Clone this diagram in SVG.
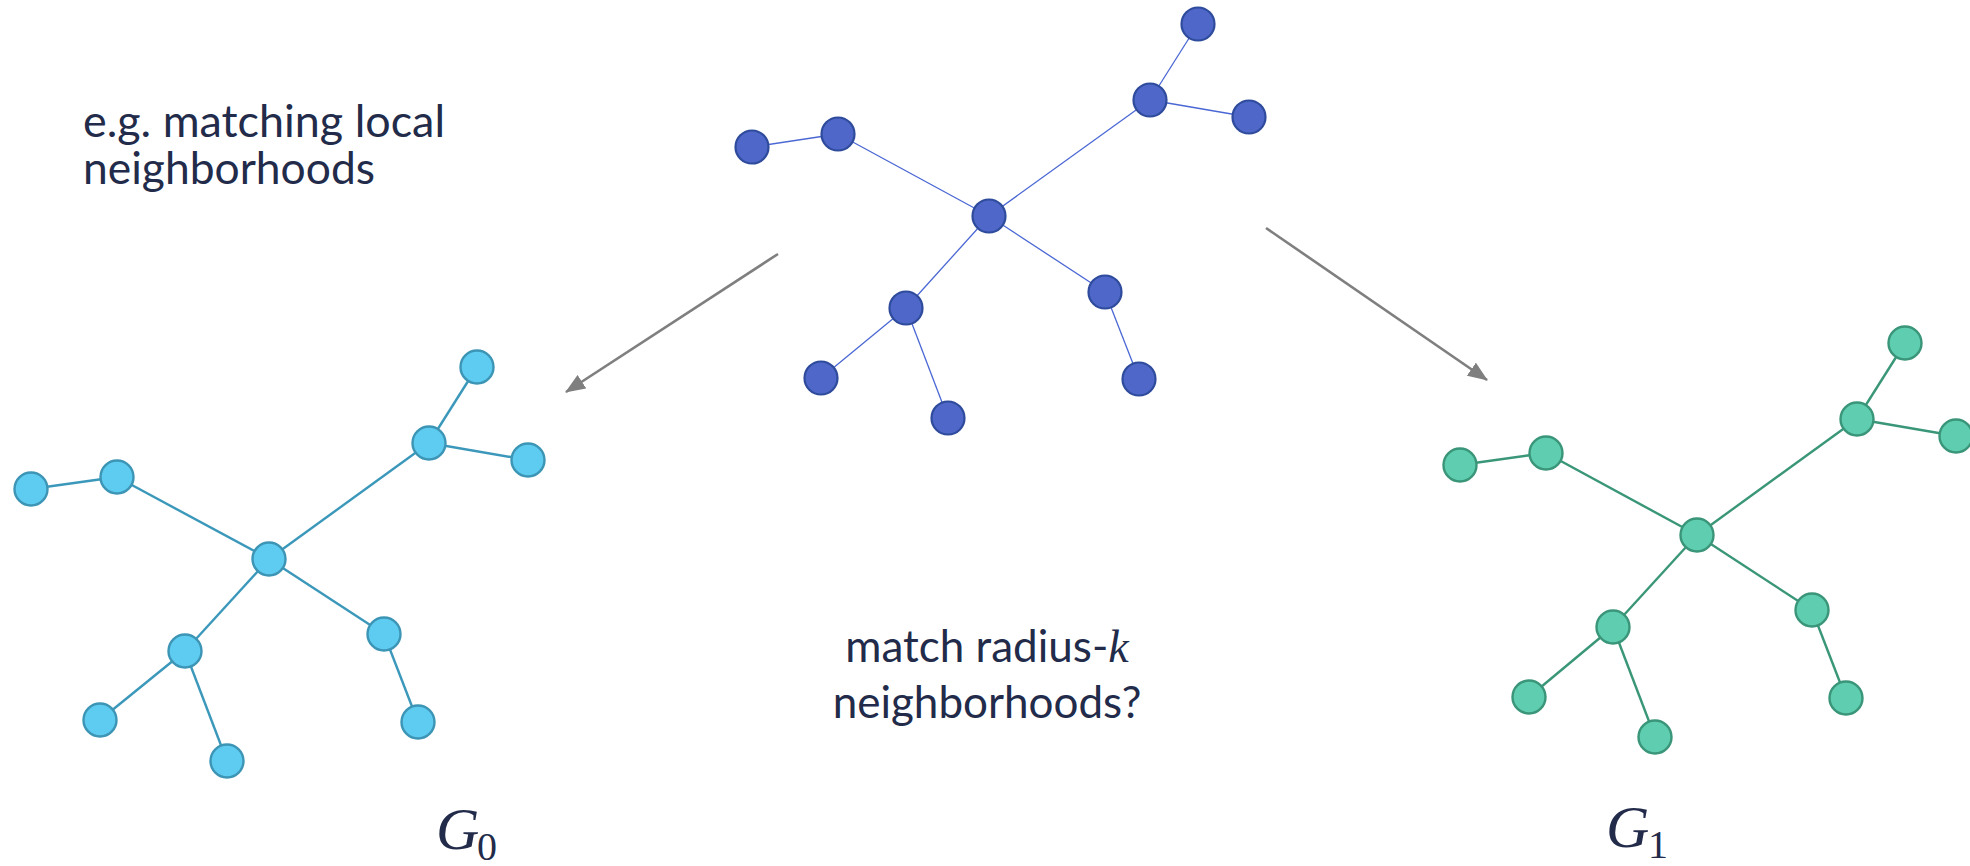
<svg xmlns="http://www.w3.org/2000/svg" width="1970" height="866" viewBox="0 0 1970 866">
<style>
.txt{font-family:Lato,"Open Sans","Liberation Sans",sans-serif;font-size:44px;fill:#222B4A}
.math{font-family:"Liberation Serif","DejaVu Serif",serif;fill:#222B4A}
.e0{stroke:#4A67D4;stroke-width:1.3;fill:none}
.n0{fill:#4E67C8;stroke:#2F4B9C;stroke-width:2.2}
.e1{stroke:#3B98BA;stroke-width:2.4;fill:none}
.n1{fill:#5ECBF0;stroke:#3D95B5;stroke-width:2.4}
.e2{stroke:#3A9678;stroke-width:2.4;fill:none}
.n2{fill:#5ECDB0;stroke:#3A9579;stroke-width:2.4}
.arr{stroke:#7F7F7F;stroke-width:2.6;fill:none}
</style>
<defs>
<marker id="ah" markerUnits="userSpaceOnUse" markerWidth="20" markerHeight="16" viewBox="0 0 20 16" refX="19" refY="8" orient="auto">
<path d="M0,0 L20,8 L0,16 Z" fill="#7F7F7F"/>
</marker>
</defs>
<rect width="1970" height="866" fill="#FFFFFF"/>

<g id="connectors">
<line class="arr" x1="778" y1="254" x2="566" y2="392" marker-end="url(#ah)"/>
<line class="arr" x1="1266" y1="228" x2="1487" y2="380" marker-end="url(#ah)"/>
<!-- top graph edges -->
<line class="e0" x1="752" y1="147" x2="838" y2="134"/>
<line class="e0" x1="838" y1="134" x2="989" y2="216"/>
<line class="e0" x1="989" y1="216" x2="1150" y2="100"/>
<line class="e0" x1="1150" y1="100" x2="1198" y2="24"/>
<line class="e0" x1="1150" y1="100" x2="1249" y2="117"/>
<line class="e0" x1="989" y1="216" x2="906" y2="308"/>
<line class="e0" x1="989" y1="216" x2="1105" y2="292"/>
<line class="e0" x1="906" y1="308" x2="821" y2="378"/>
<line class="e0" x1="906" y1="308" x2="948" y2="418"/>
<line class="e0" x1="1105" y1="292" x2="1139" y2="379"/>
<!-- left graph edges -->
<line class="e1" x1="31" y1="489" x2="117" y2="477"/>
<line class="e1" x1="117" y1="477" x2="269" y2="559"/>
<line class="e1" x1="269" y1="559" x2="429" y2="443"/>
<line class="e1" x1="429" y1="443" x2="477" y2="367"/>
<line class="e1" x1="429" y1="443" x2="528" y2="460"/>
<line class="e1" x1="269" y1="559" x2="185" y2="651"/>
<line class="e1" x1="269" y1="559" x2="384" y2="634"/>
<line class="e1" x1="185" y1="651" x2="100" y2="720"/>
<line class="e1" x1="185" y1="651" x2="227" y2="761"/>
<line class="e1" x1="384" y1="634" x2="418" y2="722"/>
<!-- right graph edges -->
<line class="e2" x1="1460" y1="465" x2="1546" y2="453"/>
<line class="e2" x1="1546" y1="453" x2="1697" y2="535"/>
<line class="e2" x1="1697" y1="535" x2="1857" y2="419"/>
<line class="e2" x1="1857" y1="419" x2="1905" y2="343"/>
<line class="e2" x1="1857" y1="419" x2="1956" y2="436"/>
<line class="e2" x1="1697" y1="535" x2="1613" y2="627"/>
<line class="e2" x1="1697" y1="535" x2="1812" y2="610"/>
<line class="e2" x1="1613" y1="627" x2="1529" y2="697"/>
<line class="e2" x1="1613" y1="627" x2="1655" y2="737"/>
<line class="e2" x1="1812" y1="610" x2="1846" y2="698"/>
</g>

<g id="top-graph">
<g id="t1"><circle class="n0" cx="1198" cy="24" r="16.5"/></g>
<g id="t2"><circle class="n0" cx="1150" cy="100" r="16.5"/></g>
<g id="t3"><circle class="n0" cx="1249" cy="117" r="16.5"/></g>
<g id="t4"><circle class="n0" cx="752" cy="147" r="16.5"/></g>
<g id="t5"><circle class="n0" cx="838" cy="134" r="16.5"/></g>
<g id="t-center"><circle class="n0" cx="989" cy="216" r="16.5"/></g>
<g id="t6"><circle class="n0" cx="906" cy="308" r="16.5"/></g>
<g id="t7"><circle class="n0" cx="1105" cy="292" r="16.5"/></g>
<g id="t8"><circle class="n0" cx="821" cy="378" r="16.5"/></g>
<g id="t9"><circle class="n0" cx="948" cy="418" r="16.5"/></g>
<g id="t10"><circle class="n0" cx="1139" cy="379" r="16.5"/></g>
</g>

<g id="g0-graph">
<g id="a1"><circle class="n1" cx="477" cy="367" r="16.5"/></g>
<g id="a2"><circle class="n1" cx="429" cy="443" r="16.5"/></g>
<g id="a3"><circle class="n1" cx="528" cy="460" r="16.5"/></g>
<g id="a4"><circle class="n1" cx="31" cy="489" r="16.5"/></g>
<g id="a5"><circle class="n1" cx="117" cy="477" r="16.5"/></g>
<g id="a-center"><circle class="n1" cx="269" cy="559" r="16.5"/></g>
<g id="a6"><circle class="n1" cx="185" cy="651" r="16.5"/></g>
<g id="a7"><circle class="n1" cx="384" cy="634" r="16.5"/></g>
<g id="a8"><circle class="n1" cx="100" cy="720" r="16.5"/></g>
<g id="a9"><circle class="n1" cx="227" cy="761" r="16.5"/></g>
<g id="a10"><circle class="n1" cx="418" cy="722" r="16.5"/></g>
</g>

<g id="g1-graph">
<g id="b1"><circle class="n2" cx="1905" cy="343" r="16.5"/></g>
<g id="b2"><circle class="n2" cx="1857" cy="419" r="16.5"/></g>
<g id="b3"><circle class="n2" cx="1956" cy="436" r="16.5"/></g>
<g id="b4"><circle class="n2" cx="1460" cy="465" r="16.5"/></g>
<g id="b5"><circle class="n2" cx="1546" cy="453" r="16.5"/></g>
<g id="b-center"><circle class="n2" cx="1697" cy="535" r="16.5"/></g>
<g id="b6"><circle class="n2" cx="1613" cy="627" r="16.5"/></g>
<g id="b7"><circle class="n2" cx="1812" cy="610" r="16.5"/></g>
<g id="b8"><circle class="n2" cx="1529" cy="697" r="16.5"/></g>
<g id="b9"><circle class="n2" cx="1655" cy="737" r="16.5"/></g>
<g id="b10"><circle class="n2" cx="1846" cy="698" r="16.5"/></g>
</g>

<g id="label-local">
<text class="txt" x="83" y="137" textLength="362" lengthAdjust="spacingAndGlyphs">e.g. matching local</text>
<text class="txt" x="83" y="184" textLength="292" lengthAdjust="spacingAndGlyphs">neighborhoods</text>
</g>

<g id="label-radius">
<text class="txt" x="987" y="662" text-anchor="middle">match radius-<tspan class="math" font-style="italic" font-size="46">k</tspan></text>
<text class="txt" x="987" y="718" text-anchor="middle">neighborhoods?</text>
</g>

<g id="label-g0">
<text class="math" x="436" y="849" font-size="60" font-style="italic">G</text>
<text class="math" x="477" y="860" font-size="40">0</text>
</g>
<g id="label-g1">
<text class="math" x="1606" y="847" font-size="60" font-style="italic">G</text>
<text class="math" x="1648" y="858" font-size="40">1</text>
</g>
</svg>
